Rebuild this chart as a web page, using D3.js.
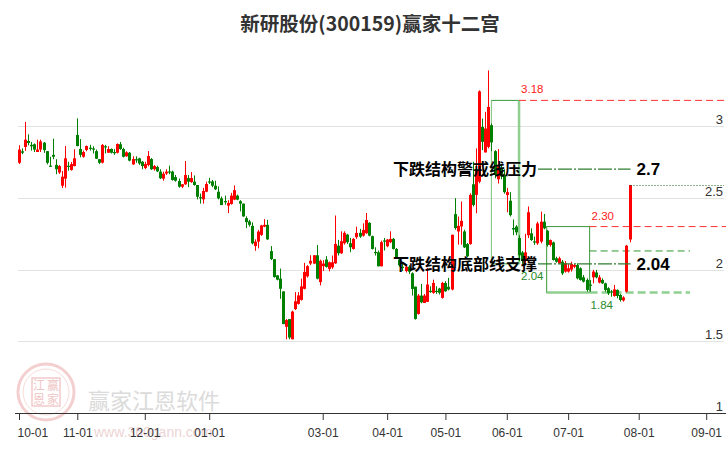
<!DOCTYPE html>
<html><head><meta charset="utf-8">
<script src="https://cdn.jsdelivr.net/npm/d3@7"></script>
<style>body{margin:0;background:#fff;} svg{display:block;}</style>
</head><body><svg id="c" width="726" height="450"></svg>
<script>
const title = "新研股份(300159)赢家十二宫";
// [open, high, low, close]
const candles = [
[2.745,2.867,2.736,2.837],[2.825,2.845,2.805,2.815],[2.855,3.03,2.828,2.906],[2.897,2.943,2.867,2.883],[2.87,2.89,2.83,2.86],
[2.874,2.88,2.82,2.837],[2.82,2.906,2.82,2.837],[2.837,2.906,2.82,2.894],[2.885,2.89,2.814,2.833],[2.826,2.826,2.734,2.745],
[2.725,2.787,2.718,2.722],[2.80,2.913,2.77,2.787],[2.73,2.77,2.665,2.70],[2.677,2.729,2.667,2.722],[2.585,2.688,2.569,2.648],
[2.634,2.862,2.571,2.776],[2.724,2.752,2.69,2.72],[2.695,2.75,2.69,2.736],[2.722,2.839,2.72,2.776],[2.939,3.055,2.86,2.862],
[2.841,2.91,2.783,2.80],[2.787,2.83,2.78,2.82],[2.834,2.865,2.825,2.862],[2.85,2.87,2.83,2.845],[2.845,2.86,2.81,2.838],
[2.826,2.837,2.773,2.773],[2.77,2.77,2.736,2.745],[2.746,2.876,2.74,2.869],[2.86,2.87,2.81,2.855],[2.815,2.86,2.815,2.841],
[2.841,2.845,2.81,2.815],[2.82,2.84,2.80,2.815],[2.815,2.88,2.81,2.876],[2.874,2.89,2.835,2.841],[2.841,2.85,2.782,2.787],
[2.79,2.825,2.787,2.818],[2.815,2.82,2.755,2.76],[2.734,2.79,2.73,2.771],[2.77,2.79,2.745,2.765],[2.776,2.78,2.73,2.74],
[2.752,2.757,2.70,2.722],[2.708,2.752,2.70,2.736],[2.729,2.827,2.72,2.792],[2.771,2.778,2.695,2.70],[2.70,2.729,2.69,2.722],
[2.715,2.725,2.68,2.685],[2.683,2.70,2.632,2.637],[2.634,2.683,2.62,2.669],[2.67,2.70,2.66,2.683],[2.685,2.725,2.665,2.68],
[2.683,2.69,2.62,2.625],[2.645,2.66,2.613,2.62],[2.618,2.635,2.571,2.578],[2.578,2.597,2.568,2.595],[2.595,2.757,2.59,2.66],
[2.638,2.66,2.575,2.613],[2.61,2.68,2.605,2.638],[2.613,2.657,2.585,2.59],[2.59,2.59,2.49,2.508],[2.505,2.53,2.46,2.50],
[2.49,2.57,2.46,2.548],[2.543,2.613,2.54,2.597],[2.615,2.64,2.597,2.61],[2.615,2.625,2.575,2.585],[2.585,2.62,2.555,2.56],
[2.543,2.58,2.49,2.497],[2.497,2.51,2.45,2.45],[2.478,2.516,2.453,2.474],[2.446,2.484,2.394,2.465],[2.458,2.535,2.453,2.516],
[2.488,2.587,2.484,2.554],[2.516,2.523,2.484,2.488],[2.477,2.484,2.406,2.46],[2.46,2.46,2.368,2.371],[2.359,2.371,2.289,2.331],
[2.336,2.347,2.30,2.312],[2.305,2.329,2.176,2.183],[2.164,2.211,2.131,2.195],[2.195,2.277,2.148,2.265],[2.242,2.312,2.235,2.308],
[2.30,2.352,2.296,2.312],[2.312,2.347,2.207,2.211],[2.129,2.164,2.066,2.073],[2.073,2.073,1.944,1.948],[1.96,1.96,1.925,1.93],
[1.937,2.007,1.796,1.866],[1.848,1.848,1.62,1.62],[1.601,1.655,1.514,1.648],[1.655,1.655,1.514,1.526],[1.514,1.714,1.514,1.707],
[1.725,1.843,1.718,1.779],[1.761,1.843,1.756,1.82],[1.789,1.937,1.784,1.883],[1.866,2.047,1.862,1.984],[1.953,2.031,1.944,2.024],
[2.042,2.10,2.031,2.061],[2.042,2.10,2.038,2.10],[2.10,2.171,1.932,1.937],[1.913,2.07,1.89,2.061],[2.024,2.066,1.99,2.042],
[2.07,2.094,2.014,2.019],[2.005,2.056,1.988,2.051],[2.016,2.098,2.005,2.051],[2.044,2.377,2.04,2.179],[2.167,2.207,2.098,2.114],
[2.114,2.267,2.109,2.198],[2.184,2.267,2.174,2.256],[2.244,2.249,2.179,2.191],[2.184,2.221,2.121,2.156],[2.144,2.221,2.14,2.214],
[2.226,2.30,2.214,2.256],[2.256,2.284,2.221,2.23],[2.237,2.323,2.23,2.277],[2.254,2.395,2.249,2.346],[2.326,2.33,2.233,2.237],
[2.233,2.237,2.14,2.144],[2.123,2.156,2.098,2.119],[2.121,2.133,2.023,2.023],[2.023,2.202,2.023,2.191],[2.203,2.221,2.133,2.198],
[2.163,2.214,2.156,2.209],[2.191,2.267,2.184,2.214],[2.214,2.221,2.14,2.144],[2.144,2.151,2.074,2.081],[2.07,2.08,2.02,2.03],
[2.02,2.04,1.99,2.015],[1.99,2.03,1.98,2.02],[2.02,2.03,1.97,1.985],[1.974,1.981,1.819,1.865],[1.881,1.881,1.651,1.656],
[1.691,1.83,1.686,1.819],[1.819,1.90,1.765,1.772],[1.767,1.83,1.767,1.819],[1.775,2.012,1.775,1.896],[1.852,1.884,1.838,1.849],
[1.838,1.93,1.831,1.907],[1.852,1.884,1.831,1.849],[1.868,1.873,1.826,1.838],[1.803,1.914,1.798,1.907],[1.907,1.919,1.845,1.849],
[1.88,1.942,1.855,1.862],[1.861,2.243,1.856,2.243],[2.387,2.498,2.278,2.29],[2.266,2.37,2.174,2.305],[2.301,2.475,2.174,2.34],
[2.266,2.278,2.15,2.155],[2.178,2.185,2.086,2.093],[2.178,2.532,2.174,2.521],[2.595,2.752,2.44,2.451],[2.521,2.845,2.393,2.694],
[2.613,3.25,2.602,3.243],[2.995,3.053,2.833,2.891],[2.817,3.10,2.817,2.984],[2.856,3.389,2.845,3.134],[3.007,3.019,2.826,2.887],
[2.826,2.833,2.637,2.66],[2.63,2.84,2.60,2.72],[2.71,2.73,2.63,2.65],[2.66,2.70,2.53,2.54],[2.52,2.57,2.40,2.54],
[2.48,2.54,2.37,2.38],[2.29,2.35,2.24,2.28],[2.30,2.31,2.24,2.26],[2.22,2.24,2.06,2.10],[2.12,2.13,2.04,2.06],
[2.06,2.25,2.04,2.12],[2.24,2.44,2.22,2.40],[2.253,2.288,2.20,2.206],[2.197,2.23,2.172,2.193],[2.183,2.334,2.172,2.322],
[2.195,2.404,2.183,2.334],[2.334,2.388,2.281,2.288],[2.271,2.276,2.16,2.172],[2.172,2.21,2.16,2.206],[2.19,2.195,2.063,2.067],
[2.079,2.09,2.048,2.055],[2.044,2.09,2.04,2.079],[2.055,2.067,1.962,1.974],[1.986,2.06,1.979,2.044],[1.986,2.04,1.979,2.009],
[2.0,2.055,1.986,2.04],[2.02,2.04,2.01,2.032],[2.032,2.044,1.932,1.939],[2.009,2.016,1.923,1.928],[1.946,1.962,1.91,1.916],
[1.928,1.939,1.846,1.858],[1.895,1.928,1.846,1.89],[1.946,1.998,1.904,1.986],[1.98,1.998,1.939,1.946],[1.91,1.962,1.904,1.946],
[1.928,1.939,1.90,1.904],[1.904,1.909,1.846,1.858],[1.87,1.877,1.823,1.835],[1.848,1.858,1.811,1.844],[1.816,1.893,1.811,1.862],
[1.858,1.862,1.80,1.816],[1.823,1.83,1.777,1.788],[1.785,1.814,1.777,1.806],[1.846,2.172,1.84,2.167],[2.21,2.59,2.19,2.59]
];
const monthLabels = ["10-01","11-01","12-01","01-01","03-01","04-01","05-01","06-01","07-01","08-01","09-01"];
const monthIdx = [0,19,41,62,99,120,139,159,179,202,224];
const yTicks = [1,1.5,2,2.5,3];
const yTickLabels = ["1","1.5","2","2.5","3"];
const boxes = [
  {from:154, to:163, high:3.18, low:2.04, highLabel:"3.18", lowLabel:"2.04"},
  {from:172, to:186, high:2.30, low:1.84, highLabel:"2.30", lowLabel:"1.84"}
];
const structLines = [
  {text:"下跌结构警戒线压力", value:2.7, label:"2.7"},
  {text:"下跌结构底部线支撑", value:2.04, label:"2.04"}
];
const midLevel = 2.13;
const lastClose = 2.59;

const svg = d3.select("#c");
const W = 726, H = 450;
const x = d3.scaleLinear().domain([0, 199]).range([19, 629.5]);
const y = d3.scaleLinear().domain([1, 3.5]).range([413, 54.5]);
const RED = "#ff0000", GREEN = "#008000";
const num = "'Liberation Sans', Arial, sans-serif";
const cjk = "'Noto Sans CJK SC', sans-serif";

// watermark
const wm = svg.append("g").attr("opacity", 0.6);
wm.append("circle").attr("cx", 46).attr("cy", 392).attr("r", 28).attr("fill","none").attr("stroke","#eeb0b0").attr("stroke-width",3);
wm.append("circle").attr("cx", 46).attr("cy", 392).attr("r", 23).attr("fill","none").attr("stroke","#f2c4c4").attr("stroke-width",1);
wm.append("rect").attr("x", 32).attr("y", 378).attr("width", 28).attr("height", 28).attr("fill","none").attr("stroke","#eaa8a8").attr("stroke-width",1.5);
[["江",39,390],["赢",53,390],["恩",39,404],["家",53,404]].forEach(d=>{
  wm.append("text").attr("x",d[1]).attr("y",d[2]).attr("text-anchor","middle").attr("font-size",12).attr("font-family",cjk).attr("fill","#e6a0a0").text(d[0]);
});
wm.append("text").attr("x", 88).attr("y", 409).attr("font-size", 22).attr("font-family", cjk).attr("fill", "#c4c4c4").text("赢家江恩软件");
wm.append("text").attr("x", 94).attr("y", 437).attr("font-size", 14).attr("font-family", num).attr("fill", "#e2b8b8").text("www.360gann.com");

// title
svg.append("text").attr("x", 370).attr("y", 31).attr("text-anchor","middle")
  .attr("font-size", 19.5).attr("font-weight","bold").attr("font-family", cjk).attr("fill","#333").text(title);

// grid
svg.append("g").selectAll("line").data(yTicks.filter(v=>v>1)).join("line")
  .attr("x1", 18).attr("x2", 724).attr("y1", d=>Math.round(y(d))+0.5).attr("y2", d=>Math.round(y(d))+0.5)
  .attr("stroke", "#e2e2e2").attr("stroke-width", 1);
svg.append("g").selectAll("text").data(yTicks).join("text")
  .attr("x", 723).attr("y", d=>y(d)-2).attr("text-anchor","end").attr("font-size",13).attr("font-family",num).attr("fill","#333")
  .text((d,i)=>yTickLabels[i]);

// x axis
const ax = svg.append("g").attr("transform","translate(0,413)")
  .call(d3.axisBottom(x).tickValues(monthIdx).tickFormat((d,i)=>monthLabels[i]).tickSize(7).tickSizeOuter(0));
ax.select(".domain").remove();
ax.append("line").attr("x1",15).attr("x2",726).attr("y1",0.5).attr("y2",0.5).attr("stroke","#333");
ax.selectAll(".tick line").attr("stroke","#333");
ax.selectAll(".tick text").attr("font-size",12).attr("font-family",num).attr("fill","#333").attr("dy","1.2em");
ax.selectAll(".tick text").filter((d,i)=>i===0).attr("text-anchor","start").attr("dx",-2);

// boxes
const bg = svg.append("g");
boxes.forEach((b,bi)=>{
  const x0 = x(b.from), x1 = x(b.to), y0 = y(b.high), y1 = y(b.low);
  bg.append("rect").attr("x",x0).attr("y",y0).attr("width",x1-x0).attr("height",y1-y0)
    .attr("fill","none").attr("stroke", "#3a9a3a").attr("stroke-width",1);
  if (bi===0) {
    bg.append("line").attr("x1",x1).attr("x2",x1).attr("y1",y0).attr("y2",y1).attr("stroke","#8fcf8f").attr("stroke-width",2.5);
    bg.append("line").attr("x1",x0).attr("x2",x0).attr("y1",y0).attr("y2",y1).attr("stroke","#8fcf8f").attr("stroke-width",1);
  } else {
    bg.append("line").attr("x1",x0).attr("x2",x1).attr("y1",y1).attr("y2",y1).attr("stroke","#8fcf8f").attr("stroke-width",2.5);
  }
  bg.append("line").attr("x1",x1).attr("x2",W).attr("y1",y0).attr("y2",y0)
    .attr("stroke","#ff3030").attr("stroke-width",1).attr("stroke-dasharray","7,4");
  bg.append("text").attr("x",x1+2).attr("y",y0-7).attr("font-size",11.5).attr("font-family",num).attr("fill","#ff2020").text(b.highLabel);
  bg.append("text").attr("x",x1+(bi===0?2:1)).attr("y",y1+16).attr("font-size",11.5).attr("font-family",num).attr("fill","#2a8a2a").text(b.lowLabel);
});
const b2 = boxes[1];
bg.append("line").attr("x1",x(b2.to)).attr("x2",690).attr("y1",y(midLevel)).attr("y2",y(midLevel))
  .attr("stroke","#2f962f").attr("stroke-width",1).attr("stroke-dasharray","7,4");
bg.append("line").attr("x1",x(b2.to)).attr("x2",690).attr("y1",y(b2.low)).attr("y2",y(b2.low))
  .attr("stroke","#8fcf8f").attr("stroke-width",2.5).attr("stroke-dasharray","8,4");

// candles
const cg = svg.append("g");
candles.forEach((d,i)=>{
  const [o,h,l,c] = d;
  const cx = Math.round(x(i));
  const col = c >= o ? RED : GREEN;
  cg.append("line").attr("x1",cx+0.5).attr("x2",cx+0.5).attr("y1",y(h)).attr("y2",y(l)).attr("stroke",col).attr("stroke-width",1);
  const top = y(Math.max(o,c)), bot = y(Math.min(o,c));
  cg.append("rect").attr("x",cx-1).attr("y",top).attr("width",3).attr("height",Math.max(1.2,bot-top)).attr("fill",col);
});

// last close dotted line
const lx = x(candles.length-1);
svg.append("line").attr("x1",lx+1).attr("x2",724).attr("y1",Math.round(y(lastClose))+0.5).attr("y2",Math.round(y(lastClose))+0.5)
  .attr("stroke","#1f5f1f").attr("stroke-width",1).attr("stroke-dasharray","1,2");

// structure lines
structLines.forEach(s=>{
  const yy = y(s.value);
  const t = svg.append("text").attr("x",393).attr("y",yy+6).attr("font-size",16).attr("font-weight","bold")
    .attr("font-family",cjk).attr("fill","#000").text(s.text);
  const tEnd = 393 + t.node().getComputedTextLength() + 1;
  svg.append("line").attr("x1",tEnd).attr("x2",lx+1).attr("y1",yy).attr("y2",yy)
    .attr("stroke","#2f7f2f").attr("stroke-width",1.2).attr("stroke-dasharray","14,2,2,2");
  svg.append("text").attr("x",lx+7).attr("y",yy+6).attr("font-size",17).attr("font-weight","bold")
    .attr("font-family",num).attr("fill","#000").text(s.label);
});
</script></body></html>
